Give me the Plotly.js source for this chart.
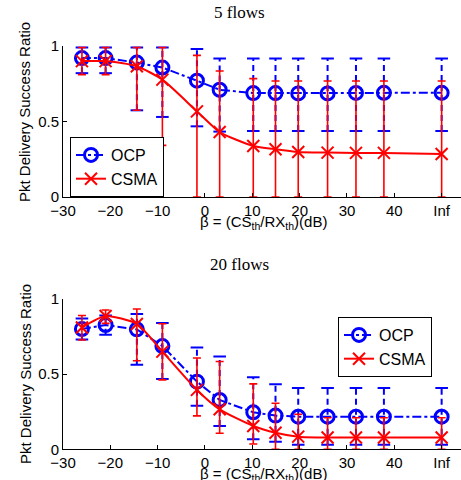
<!DOCTYPE html>
<html>
<head>
<meta charset="utf-8">
<script src="https://cdn.plot.ly/plotly-3.0.1.min.js"></script>
<style>html,body{margin:0;padding:0;background:#fff;}#chart{width:461px;height:480px;}</style>
</head>
<body>
<div id="chart"></div>
<script>
// ---- data ----
var beta = [-26, -21, -14.4, -9, -1.7, 3.1, 10.2, 14.9, 19.7, 25.9, 31.9, 37.8, 50]; // last = Inf
var xTickVals = [-30, -20, -10, 0, 10, 20, 30, 40, 50];
var xTickText = ["\u221230", "\u221220", "\u221210", "0", "10", "20", "30", "40", "Inf"];
var yTickVals = [0, 0.5, 1];
var yTickText = ["0", "0.5", "1"];

// 5 flows
var ocp5 = [0.92, 0.92, 0.89, 0.857, 0.77, 0.71, 0.688, 0.688, 0.686, 0.686, 0.689, 0.69, 0.69];
var ocp5Hi = [0.99, 0.99, 0.99, 0.99, 0.98, 0.917, 0.917, 0.917, 0.917, 0.917, 0.917, 0.917, 0.917];
var ocp5Lo = [0.82, 0.82, 0.574, 0.53, 0.468, 0.433, 0.437, 0.437, 0.437, 0.437, 0.437, 0.437, 0.437];
var csma5 = [0.90, 0.90, 0.866, 0.777, 0.567, 0.43, 0.338, 0.316, 0.298, 0.294, 0.292, 0.292, 0.285];
var csma5Hi = [0.99, 0.99, 0.99, 0.99, 0.938, 0.834, 0.784, 0.768, 0.768, 0.768, 0.768, 0.768, 0.768];
var csma5Lo = [0.81, 0.81, 0.574, 0.342, 0, 0, 0, 0, 0, 0, 0, 0, 0];

// 20 flows
var ocp20 = [0.80, 0.827, 0.798, 0.687, 0.45, 0.328, 0.246, 0.224, 0.217, 0.217, 0.217, 0.217, 0.217];
var ocp20Hi = [0.87, 0.89, 0.90, 0.84, 0.678, 0.617, 0.48, 0.433, 0.407, 0.407, 0.407, 0.407, 0.407];
var ocp20Lo = [0.73, 0.762, 0.562, 0.467, 0.29, 0.155, 0.067, 0.05, 0.03, 0.03, 0.03, 0.03, 0.03];
var csma20 = [0.81, 0.887, 0.834, 0.65, 0.395, 0.266, 0.155, 0.11, 0.084, 0.078, 0.078, 0.078, 0.078];
var csma20Hi = [0.89, 0.927, 0.933, 0.835, 0.607, 0.584, 0.435, 0.306, 0.233, 0.21, 0.21, 0.21, 0.21];
var csma20Lo = [0.727, 0.838, 0.589, 0.462, 0.222, 0.107, 0.035, 0, 0, 0, 0, 0, 0];

// ---- helpers ----
var BLUE = 'rgb(0,0,255)', RED = 'rgb(255,0,0)';
function diff(a, b) { return a.map(function (v, i) { return v - b[i]; }); }

function blueErr(x, lo, hi, xa, ya) {
  var xs = [], ys = [];
  for (var i = 0; i < x.length; i++) { xs.push(x[i], x[i], null); ys.push(lo[i], hi[i], null); }
  return [
    { x: xs, y: ys, xaxis: xa, yaxis: ya, mode: 'lines', showlegend: false, hoverinfo: 'skip',
      line: { color: BLUE, width: 2, dash: '6px,4px' } },
    { x: x.concat(x), y: lo.concat(hi), xaxis: xa, yaxis: ya, mode: 'markers', showlegend: false, hoverinfo: 'skip',
      marker: { symbol: 'line-ew-open', size: 9, color: BLUE, line: { color: BLUE, width: 2 } } }
  ];
}
function ocpTrace(x, y, xa, ya, lg) {
  return { x: x, y: y, xaxis: xa, yaxis: ya, name: 'OCP', legend: lg, mode: 'lines+markers',
    line: { color: BLUE, width: 2, dash: 'dashdot' },
    marker: { symbol: 'circle-open', size: 13, color: BLUE, line: { color: BLUE, width: 3 } } };
}
function csmaTrace(x, y, lo, hi, xa, ya, lg) {
  return { x: x, y: y, xaxis: xa, yaxis: ya, name: 'CSMA', legend: lg, mode: 'lines+markers',
    line: { color: RED, width: 2, shape: 'spline', smoothing: 0.6 },
    marker: { symbol: 'x-thin-open', size: 12, color: RED, line: { color: RED, width: 2 } },
    error_y: { type: 'data', symmetric: false, array: diff(hi, y), arrayminus: diff(y, lo),
      color: RED, thickness: 1.6, width: 4 } };
}

var data = []
  .concat(blueErr(beta, ocp5Lo, ocp5Hi, 'x', 'y'))
  .concat([ocpTrace(beta, ocp5, 'x', 'y', 'legend'), csmaTrace(beta, csma5, csma5Lo, csma5Hi, 'x', 'y', 'legend')])
  .concat(blueErr(beta, ocp20Lo, ocp20Hi, 'x2', 'y2'))
  .concat([ocpTrace(beta, ocp20, 'x2', 'y2', 'legend2'), csmaTrace(beta, csma20, csma20Lo, csma20Hi, 'x2', 'y2', 'legend2')]);

var SANS = 'Liberation Sans, Arial, sans-serif';
var SERIF = 'Liberation Serif, Times New Roman, serif';

function xAxis(anchor) {
  return { anchor: anchor, domain: [0, 1], range: [-30, 54.09], tickmode: 'array', tickvals: xTickVals, ticktext: xTickText,
    ticks: 'inside', ticklen: 4, tickwidth: 1, tickcolor: '#000', showline: true, linecolor: '#000', linewidth: 1,
    showgrid: false, zeroline: false, tickfont: { family: SANS, size: 15, color: '#000' }, mirror: false };
}
function yAxis(anchor, dom) {
  return { anchor: anchor, domain: dom, range: [0, 1], tickmode: 'array', tickvals: yTickVals, ticktext: yTickText,
    ticks: 'inside', ticklen: 4, tickwidth: 1, tickcolor: '#000', showline: true, linecolor: '#000', linewidth: 1,
    showgrid: false, zeroline: false, tickfont: { family: SANS, size: 15, color: '#000' } };
}
function legendBox(x, y) {
  return { x: x, y: y, xanchor: 'left', yanchor: 'top', bgcolor: '#fff', bordercolor: '#000', borderwidth: 1,
    font: { family: SANS, size: 16, color: '#000' }, tracegroupgap: 0 };
}
var xlab = '\u03b2 = (CS<sub>th</sub>/RX<sub>th</sub>)(dB)';

var layout = {
  width: 461, height: 480,
  margin: { l: 63, r: 0, t: 0, b: 0 },
  paper_bgcolor: '#fff', plot_bgcolor: '#fff',
  showlegend: true,
  xaxis: xAxis('y'),
  yaxis: yAxis('x', [0.5896, 0.9042]),
  xaxis2: xAxis('y2'),
  yaxis2: yAxis('x2', [0.0640, 0.3771]),
  legend: legendBox(0.0176, 0.7146),
  legend2: legendBox(0.691, 0.3396),
  annotations: [
    { text: '5 flows', xref: 'paper', yref: 'paper', x: 0.4447, y: 0.975, showarrow: false,
      xanchor: 'center', yanchor: 'middle', font: { family: SERIF, size: 17, color: '#000' } },
    { text: '20 flows', xref: 'paper', yref: 'paper', x: 0.4447, y: 0.448, showarrow: false,
      xanchor: 'center', yanchor: 'middle', font: { family: SERIF, size: 17, color: '#000' } },
    { text: 'Pkt Delivery Success Ratio', xref: 'paper', yref: 'paper', x: -0.0955, y: 0.7667, textangle: -90,
      showarrow: false, xanchor: 'center', yanchor: 'middle', font: { family: SANS, size: 15, color: '#000' } },
    { text: 'Pkt Delivery Success Ratio', xref: 'paper', yref: 'paper', x: -0.0955, y: 0.2208, textangle: -90,
      showarrow: false, xanchor: 'center', yanchor: 'middle', font: { family: SANS, size: 15, color: '#000' } },
    { text: xlab, xref: 'paper', yref: 'paper', x: 0.5033, y: 0.5375, showarrow: false,
      xanchor: 'center', yanchor: 'middle', font: { family: SANS, size: 15, color: '#000' } },
    { text: xlab, xref: 'paper', yref: 'paper', x: 0.5033, y: 0.0115, showarrow: false,
      xanchor: 'center', yanchor: 'middle', font: { family: SANS, size: 15, color: '#000' } }
  ]
};

Plotly.newPlot('chart', data, layout, { staticPlot: true, displayModeBar: false });
</script>
</body>
</html>
